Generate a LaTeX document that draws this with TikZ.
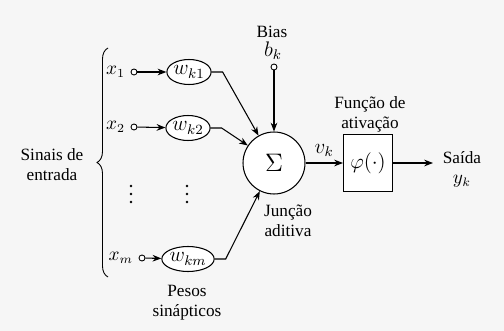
\documentclass[tikz,border=0pt]{standalone}
\usepackage{amsmath,amssymb}
\usepackage{fontspec}
\setmainfont{Liberation Serif}
\usetikzlibrary{arrows.meta,positioning,shapes.geometric,decorations.pathreplacing}

\begin{document}
\begin{tikzpicture}[
    x=0.02cm, y=-0.02cm,
    font=\fontsize{9.8}{11.5}\selectfont,
    mathtxt/.style={font=\fontsize{11.5}{13}\selectfont},
    inputtxt/.style={font=\fontsize{10.5}{12}\selectfont, inner sep=1pt},
    weight/.style={ellipse, draw, fill=white, line width=0.6pt, minimum width=0.74cm, minimum height=0.5cm, inner sep=0pt, mathtxt},
    terminal/.style={circle, draw, fill=white, line width=0.5pt, inner sep=0pt, minimum size=0.12cm},
    summer/.style={circle, draw, fill=white, line width=0.6pt, minimum size=1.24cm},
    actbox/.style={rectangle, draw, fill=white, line width=0.6pt, minimum width=0.98cm, minimum height=1.14cm, mathtxt},
    edge/.style={-{Stealth[length=5pt,width=3.8pt]}, line width=0.6pt},
    txt/.style={align=center, inner sep=1pt}
]
\fill[gray!7] (0,0) rectangle (504,331);
\useasboundingbox (0,0) rectangle (504,331);
% inputs and weights
\node[terminal] (t1) at (134,72) {};
\node[terminal] (t2) at (134,127) {};
\node[terminal] (tm) at (142,258) {};
\node[left=2pt of t1, inputtxt] (x1) {$x_1$};
\node[left=2pt of t2, inputtxt] (x2) {$x_2$};
\node[left=2pt of tm, inputtxt] (xm) {$x_m$};
\node[weight] (w1) at (189,72) {$w_{k1}$};
\node[weight] (w2) at (188,128) {$w_{k2}$};
\node[weight] (wm) at (188,259) {$w_{km}$};
\foreach \px in {131,187}
  \foreach \py in {186,194,202}
    \fill (\px,\py) circle (0.75pt);
% neuron
\node[summer] (sum) at (274,163) {\fontsize{14}{16}\selectfont$\Sigma$};
\node[terminal] (tb) at (274,67) {};
\node[actbox] (act) at (368,163) {$\varphi(\cdot)$};
\coordinate (out) at (433,163);
% texts
\node[txt] (bias) at (272,32) {Bias};
\node[txt, mathtxt] (bk) at (273,51) {$b_k$};
\node[txt] (inlabel) at (52,165) {Sinais de\\entrada};
\node[txt] (wlabel) at (187,303) {Pesos\\sinápticos};
\node[txt] (sumlabel) at (288,221) {Junção\\aditiva};
\node[txt] (actlabel) at (370,114) {Função de\\ativação};
\node[txt] (outlabel) at (462,169) {Saída\\[0pt]{\fontsize{10.5}{12}\selectfont$y_k$}};
\draw[decorate, decoration={brace, amplitude=0.22cm}, line width=0.5pt] (108,277) -- (108,48);
% connectors
\draw[edge] (t1) -- (w1);
\draw[edge] (t2) -- (w2);
\draw[edge] (tm) -- (wm);
\draw[edge] (w1.east) -- ++(11,0) -- (sum);
\draw[edge] (w2.east) -- ++(11,0) -- (sum);
\draw[edge] (wm.east) -- ++(11,0) -- (sum);
\draw[edge] (tb) -- (sum);
\draw[edge] (sum) -- node[above, mathtxt] {$v_k$} (act);
\draw[edge] (act) -- (out);
\end{tikzpicture}
\end{document}
